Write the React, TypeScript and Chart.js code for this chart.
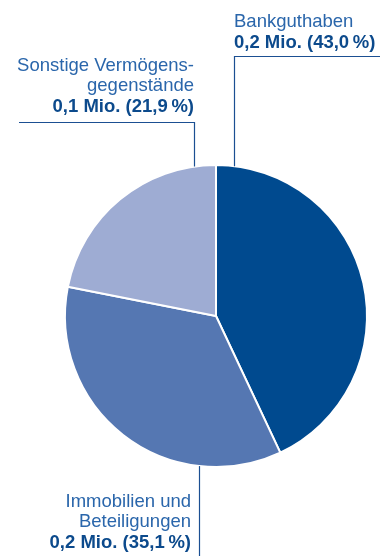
import React, { useEffect, useRef } from "react";
import { Chart, registerables } from "chart.js";

Chart.register(...registerables);

const categories = ["Bankguthaben", "Immobilien und Beteiligungen", "Sonstige Vermögensgegenstände"];
const labelLines = [["Bankguthaben"], ["Immobilien und", "Beteiligungen"], ["Sonstige Vermögens-", "gegenstände"]];
const shares = [43.0, 35.1, 21.9];
const amountsMio = [0.2, 0.2, 0.1];
const colors = ["#004a8f", "#5577b2", "#9eacd3"];

const fmt = (v: number, d: number) => v.toFixed(d).replace(".", ",");

const TEXT_REG = "#2a66ab";
const TEXT_BOLD = "#0c4a8c";
const LINE = "#1b4f92";
const FONT = "'Liberation Sans', Arial, sans-serif";

const labelPlugin = {
  id: "leaderLabels",
  afterDraw(chart: any) {
    const ctx = chart.ctx;
    const meta = chart.getDatasetMeta(0);
    const arc = meta.data[0];
    const cx = arc.x, cy = arc.y, r = arc.outerRadius;
    const edgeY = (x: number, top: boolean) => {
      const dx = x - cx;
      const h = Math.sqrt(Math.max(r * r - dx * dx, 0));
      return top ? cy - h : cy + h;
    };
    ctx.save();
    ctx.strokeStyle = LINE;
    ctx.lineWidth = 1.2;
    const line = (pts: number[][]) => {
      ctx.beginPath();
      ctx.moveTo(pts[0][0], pts[0][1]);
      for (let i = 1; i < pts.length; i++) ctx.lineTo(pts[i][0], pts[i][1]);
      ctx.stroke();
    };
    const bold = (i: number) => `${fmt(amountsMio[i], 1)} Mio. (${fmt(shares[i], 1)}\u2009%)`;
    const block = (i: number, x: number, firstBaseline: number, align: CanvasTextAlign) => {
      ctx.textAlign = align;
      ctx.textBaseline = "alphabetic";
      let y = firstBaseline;
      ctx.font = `normal 18.5px ${FONT}`;
      ctx.fillStyle = TEXT_REG;
      for (const t of labelLines[i]) {
        ctx.fillText(t, x, y);
        y += 20;
      }
      ctx.font = `bold 18.5px ${FONT}`;
      ctx.fillStyle = TEXT_BOLD;
      ctx.fillText(bold(i), x, y + 1);
    };
    // Bankguthaben
    line([[380, 56.5], [234.5, 56.5], [234.5, edgeY(234.5, true)]]);
    block(0, 234, 27, "left");
    // Sonstige
    line([[19, 122.5], [194.5, 122.5], [194.5, edgeY(194.5, true)]]);
    block(2, 194, 71, "right");
    // Immobilien
    line([[199.5, edgeY(199.5, false)], [199.5, 556]]);
    block(1, 191, 507, "right");
    ctx.restore();
  },
};

export default function App() {
  const ref = useRef<HTMLCanvasElement>(null);
  useEffect(() => {
    document.body.style.margin = "0";
    const chart = new Chart(ref.current!, {
      type: "pie",
      data: {
        labels: categories,
        datasets: [
          {
            data: shares,
            backgroundColor: colors,
            borderColor: "#ffffff",
            borderWidth: 2,
          },
        ],
      },
      options: {
        responsive: false,
        animation: false,
        layout: { padding: { left: 64, right: 12, top: 164, bottom: 88 } },
        plugins: { legend: { display: false }, tooltip: { enabled: false } },
      },
      plugins: [labelPlugin],
    });
    return () => chart.destroy();
  }, []);
  return (
    <div style={{ width: 380, height: 556, background: "#fff" }}>
      <canvas ref={ref} width={380} height={556} />
    </div>
  );
}
